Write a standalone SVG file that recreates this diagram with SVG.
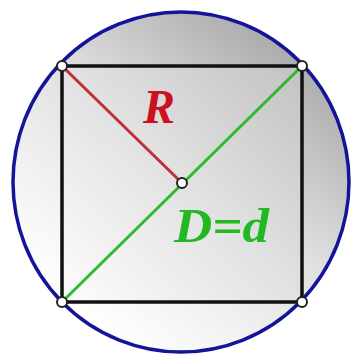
<svg xmlns="http://www.w3.org/2000/svg" width="352" height="359" viewBox="0 0 352 359">
<defs>
<linearGradient id="bg" x1="0.2" y1="0.9" x2="0.85" y2="0.05">
<stop offset="0" stop-color="#ffffff"/>
<stop offset="0.5" stop-color="#e2e2e2"/>
<stop offset="1" stop-color="#a4a4a4"/>
</linearGradient>
<linearGradient id="sq" x1="0" y1="1" x2="1" y2="0">
<stop offset="0" stop-color="#fdfdfd"/>
<stop offset="0.5" stop-color="#e2e2e2"/>
<stop offset="1" stop-color="#c2c2c2"/>
</linearGradient>
<style>
.pt{fill:#ffffff;stroke:#222222;stroke-width:2}
.lbl{font-family:"Liberation Serif",serif;font-weight:bold;font-style:italic;font-size:48px}
</style>
</defs>
<rect width="352" height="359" fill="#ffffff"/>
<g id="circle">
<ellipse cx="181" cy="182" rx="168" ry="170" fill="url(#bg)" stroke="#14149a" stroke-width="3.5"/>
</g>
<g id="square">
<rect x="62" y="66" width="240" height="236" fill="url(#sq)" stroke="#111111" stroke-width="3.5"/>
</g>
<g id="connectors">
<line x1="62" y1="66" x2="182" y2="183" stroke="#c03038" stroke-width="3"/>
<line x1="62" y1="302" x2="302" y2="66" stroke="#2cbb2c" stroke-width="3"/>
</g>
<g id="labels">
<text class="lbl" x="143" y="123" fill="#cc1020">R</text>
<text class="lbl" x="174" y="242" fill="#22b822" textLength="95" lengthAdjust="spacingAndGlyphs">D=d</text>
</g>
<g id="points">
<circle id="p-tl" class="pt" cx="62" cy="66" r="5"/>
<circle id="p-tr" class="pt" cx="302" cy="66" r="5"/>
<circle id="p-bl" class="pt" cx="62" cy="302" r="5"/>
<circle id="p-br" class="pt" cx="302" cy="302" r="5"/>
<circle id="p-c" class="pt" cx="182" cy="183" r="5"/>
</g>
</svg>
